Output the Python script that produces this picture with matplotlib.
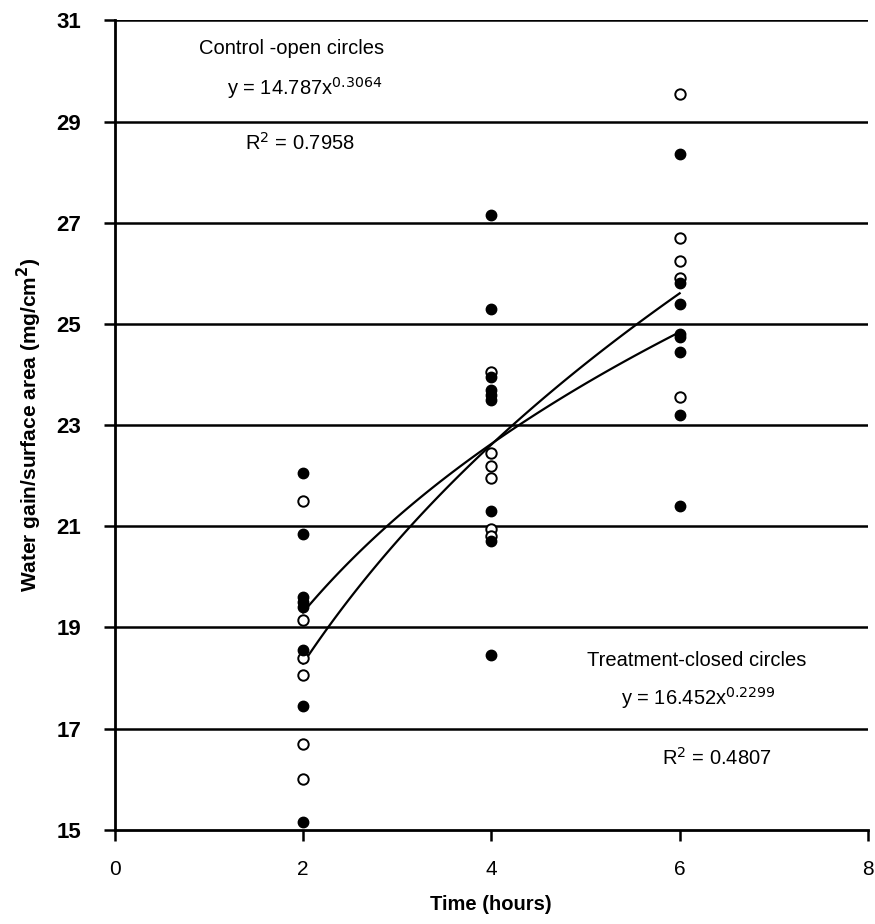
import numpy as np
import matplotlib
matplotlib.use('Agg')
import matplotlib.pyplot as plt

plt.rcParams['font.family'] = ['Liberation Sans', 'DejaVu Sans']

# open circles (control)
control_x = [2, 2, 2, 2, 2, 2, 4, 4, 4, 4, 4, 4, 6, 6, 6, 6, 6]
control_y = [21.5, 19.15, 18.4, 18.05, 16.7, 16.0,
             24.05, 22.45, 22.2, 21.95, 20.95, 20.8,
             29.55, 26.7, 26.25, 25.9, 23.55]

# closed circles (treatment)
treat_x = [2, 2, 2, 2, 2, 2, 2, 2, 4, 4, 4, 4, 4, 4, 4, 4, 4,
           6, 6, 6, 6, 6, 6, 6, 6]
treat_y = [22.05, 20.85, 19.6, 19.5, 19.4, 18.55, 17.45, 15.15,
           27.15, 25.3, 23.95, 23.7, 23.6, 23.5, 21.3, 20.7, 18.45,
           28.35, 25.8, 25.4, 24.8, 24.75, 24.45, 23.2, 21.4]

# power trendlines y = a * x^b
control_fit = (14.787, 0.3064)
treat_fit = (16.452, 0.2299)

fig = plt.figure(figsize=(8.75, 9.24), dpi=100)
ax = fig.add_axes([0.131, 0.102, 0.861, 0.876])

for yv in range(17, 32, 2):
    ax.axhline(yv, color='black', lw=1.8, zorder=1)

xx = np.linspace(2, 6, 100)
for a, b in (control_fit, treat_fit):
    ax.plot(xx, a * xx ** b, color='black', lw=1.6, zorder=2)

ax.plot(control_x, control_y, 'o', mfc='white', mec='black', mew=1.4, ms=7.5, zorder=3)
ax.plot(treat_x, treat_y, 'o', mfc='black', mec='black', ms=7.5, zorder=3)

ax.set_xlim(0, 8)
ax.set_ylim(15, 31)
ax.set_xticks([0, 2, 4, 6, 8])
ax.set_yticks(range(15, 32, 2))
ax.tick_params(axis='both', direction='out', length=8, width=1.8)
ax.tick_params(axis='y', labelsize=16, pad=16)
ax.tick_params(axis='x', labelsize=15, pad=14)
for lab in ax.get_yticklabels():
    lab.set_fontweight('bold')

ax.spines['right'].set_visible(False)
ax.spines['top'].set_visible(False)
ax.spines['left'].set_linewidth(2)
ax.spines['bottom'].set_linewidth(2)

ax.set_xlabel('Time (hours)', fontsize=14.5, fontweight='bold', labelpad=11)
ax.set_ylabel('Water gain/surface area (mg/cm$^{\\mathbf{2}}$)', fontsize=15,
              fontweight='bold', labelpad=9)

ax.text(1.88, 30.45, 'Control -open circles', ha='center', va='center', fontsize=14.5)
ax.text(2.02, 29.66, 'y = 14.787x$^{0.3064}$', ha='center', va='center', fontsize=14.5)
ax.text(1.97, 28.57, 'R$^2$ = 0.7958', ha='center', va='center', fontsize=14.5)
ax.text(6.18, 18.35, 'Treatment-closed circles', ha='center', va='center', fontsize=14.5)
ax.text(6.2, 17.6, 'y = 16.452x$^{0.2299}$', ha='center', va='center', fontsize=14.5)
ax.text(6.4, 16.43, 'R$^2$ = 0.4807', ha='center', va='center', fontsize=14.5)

fig.savefig('out.png', dpi=100)
